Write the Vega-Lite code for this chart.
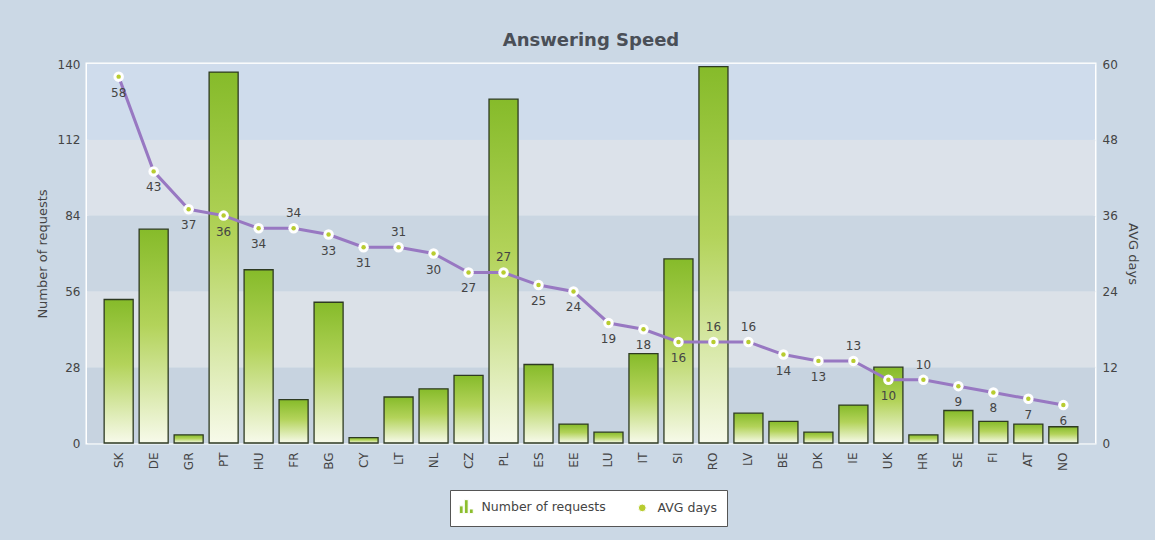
{
  "$schema": "https://vega.github.io/schema/vega-lite/v6.json",
  "autosize": "none",
  "width": 1008,
  "height": 379,
  "padding": {"left": 87, "top": 64, "right": 60, "bottom": 97},
  "background": "#cbd8e5",
  "title": {
    "text": "Answering Speed",
    "font": "DejaVu Sans",
    "fontSize": 18,
    "fontWeight": "bold",
    "color": "#4a4f57",
    "anchor": "middle",
    "offset": 8
  },
  "config": {
    "view": {"stroke": "white", "strokeWidth": 3},
    "font": "DejaVu Sans",
    "axis": {
      "labelFont": "DejaVu Sans",
      "titleFont": "DejaVu Sans",
      "labelFontSize": 12,
      "labelColor": "#444",
      "titleColor": "#444",
      "titleFontSize": 13,
      "titleFontWeight": "normal",
      "domain": false,
      "ticks": false
    }
  },
  "data": {
    "values": [
      {"country": "SK", "requests": 53, "days": 58},
      {"country": "DE", "requests": 79, "days": 43},
      {"country": "GR", "requests": 3, "days": 37},
      {"country": "PT", "requests": 137, "days": 36},
      {"country": "HU", "requests": 64, "days": 34},
      {"country": "FR", "requests": 16, "days": 34},
      {"country": "BG", "requests": 52, "days": 33},
      {"country": "CY", "requests": 2, "days": 31},
      {"country": "LT", "requests": 17, "days": 31},
      {"country": "NL", "requests": 20, "days": 30},
      {"country": "CZ", "requests": 25, "days": 27},
      {"country": "PL", "requests": 127, "days": 27},
      {"country": "ES", "requests": 29, "days": 25},
      {"country": "EE", "requests": 7, "days": 24},
      {"country": "LU", "requests": 4, "days": 19},
      {"country": "IT", "requests": 33, "days": 18},
      {"country": "SI", "requests": 68, "days": 16},
      {"country": "RO", "requests": 139, "days": 16},
      {"country": "LV", "requests": 11, "days": 16},
      {"country": "BE", "requests": 8, "days": 14},
      {"country": "DK", "requests": 4, "days": 13},
      {"country": "IE", "requests": 14, "days": 13},
      {"country": "UK", "requests": 28, "days": 10},
      {"country": "HR", "requests": 3, "days": 10},
      {"country": "SE", "requests": 12, "days": 9},
      {"country": "FI", "requests": 8, "days": 8},
      {"country": "AT", "requests": 7, "days": 7},
      {"country": "NO", "requests": 6, "days": 6}
    ]
  },
  "layer": [
    {
      "layer": [
        {"data": {"values": [{}]}, "mark": {"type": "rect", "color": "#c7d3e0"}, "encoding": {"y": {"datum": 0}, "y2": {"datum": 28}}},
        {"data": {"values": [{}]}, "mark": {"type": "rect", "color": "#dbe1e8"}, "encoding": {"y": {"datum": 28}, "y2": {"datum": 56}}},
        {"data": {"values": [{}]}, "mark": {"type": "rect", "color": "#cad6e2"}, "encoding": {"y": {"datum": 56}, "y2": {"datum": 84}}},
        {"data": {"values": [{}]}, "mark": {"type": "rect", "color": "#dce2ea"}, "encoding": {"y": {"datum": 84}, "y2": {"datum": 112}}},
        {"data": {"values": [{}]}, "mark": {"type": "rect", "color": "#cfdcec"}, "encoding": {"y": {"datum": 112}, "y2": {"datum": 140}}},
        {
          "mark": {
            "type": "bar",
            "stroke": "#2e3a22",
            "strokeWidth": 1.3,
            "color": {
              "gradient": "linear",
              "x1": 0, "y1": 0, "x2": 0, "y2": 1,
              "stops": [
                {"offset": 0, "color": "#86bb2a"},
                {"offset": 0.45, "color": "#b3d35a"},
                {"offset": 1, "color": "#f7faea"}
              ]
            }
          },
          "encoding": {
            "x": {
              "field": "country",
              "type": "nominal",
              "sort": null,
              "scale": {"paddingInner": 0.17, "paddingOuter": 0.49},
              "axis": {"title": null, "labelAngle": -90, "labelPadding": 9, "labelAlign": "right", "labelBaseline": "middle"}
            },
            "y": {"field": "requests", "type": "quantitative"}
          }
        },
        {
          "mark": {"type": "point", "opacity": 0, "filled": true},
          "encoding": {
            "x": {"field": "country", "type": "nominal", "sort": null},
            "y": {"field": "requests", "type": "quantitative"},
            "color": {
              "datum": "Number of requests",
              "scale": {"domain": ["Number of requests", "AVG days"], "range": ["#8cbe2e", "#b8cc30"]},
              "legend": {
                "orient": "none",
                "legendX": 363,
                "legendY": 426,
                "direction": "horizontal",
                "title": null,
                "fillColor": "white",
                "strokeColor": "#555",
                "padding": 10,
                "columnPadding": 30,
                "labelOffset": 9,
                "labelFont": "DejaVu Sans",
                "labelFontSize": 12.5,
                "labelColor": "#444",
                "symbolOpacity": 1,
                "symbolSize": 60,
                "symbolStrokeColor": "white",
                "symbolStrokeWidth": 1
              }
            },
            "shape": {
              "datum": "Number of requests",
              "scale": {"domain": ["Number of requests", "AVG days"], "range": ["M-1.8,1.8H-0.8V-0.2H-1.8Z M-0.5,1.8H0.5V-1.8H-0.5Z M0.8,1.8H1.8V0.6H0.8Z", "circle"]},
              "legend": {
                "orient": "none",
                "legendX": 363,
                "legendY": 426,
                "direction": "horizontal",
                "title": null,
                "fillColor": "white",
                "strokeColor": "#555",
                "padding": 10,
                "columnPadding": 30,
                "labelOffset": 9,
                "labelFont": "DejaVu Sans",
                "labelFontSize": 12.5,
                "labelColor": "#444",
                "symbolOpacity": 1,
                "symbolSize": 60,
                "symbolStrokeColor": "white",
                "symbolStrokeWidth": 1
              }
            }
          }
        }
      ],
      "encoding": {
        "y": {
          "scale": {"domain": [0, 140], "nice": false},
          "axis": {
            "title": "Number of requests",
            "values": [0, 28, 56, 84, 112, 140],
            "grid": true,
            "gridColor": "#e8edf2",
            "gridWidth": 1.5,
            "labelPadding": 7,
            "titlePadding": 8
          }
        }
      }
    },
    {
      "layer": [
        {
          "mark": {"type": "line", "color": "#9878c2", "strokeWidth": 3},
          "encoding": {"y": {"field": "days", "type": "quantitative"}}
        },
        {
          "mark": {"type": "point", "filled": true, "color": "white", "opacity": 1, "size": 110},
          "encoding": {"y": {"field": "days", "type": "quantitative"}}
        },
        {
          "mark": {"type": "point", "filled": true, "opacity": 1, "size": 20},
          "encoding": {
            "y": {"field": "days", "type": "quantitative"},
            "color": {"datum": "AVG days"},
            "shape": {"datum": "AVG days"}
          }
        },
        {
          "transform": [{"filter": {"not": {"field": "country", "oneOf": ["FR", "LT", "PL", "RO", "LV", "IE", "HR"]}}}],
          "mark": {"type": "text", "dy": 16, "fontSize": 12, "color": "#444", "font": "DejaVu Sans"},
          "encoding": {"y": {"field": "days", "type": "quantitative"}, "text": {"field": "days", "type": "quantitative"}}
        },
        {
          "transform": [{"filter": {"field": "country", "oneOf": ["FR", "LT", "PL", "RO", "LV", "IE", "HR"]}}],
          "mark": {"type": "text", "dy": -15, "fontSize": 12, "color": "#444", "font": "DejaVu Sans"},
          "encoding": {"y": {"field": "days", "type": "quantitative"}, "text": {"field": "days", "type": "quantitative"}}
        }
      ],
      "encoding": {
        "x": {"field": "country", "type": "nominal", "sort": null},
        "y": {
          "scale": {"domain": [0, 60], "nice": false},
          "axis": {
            "orient": "right",
            "title": "AVG days",
            "values": [0, 12, 24, 36, 48, 60],
            "grid": false,
            "labelPadding": 7,
            "titlePadding": 8
          }
        }
      }
    }
  ],
  "resolve": {"scale": {"y": "independent"}}
}
